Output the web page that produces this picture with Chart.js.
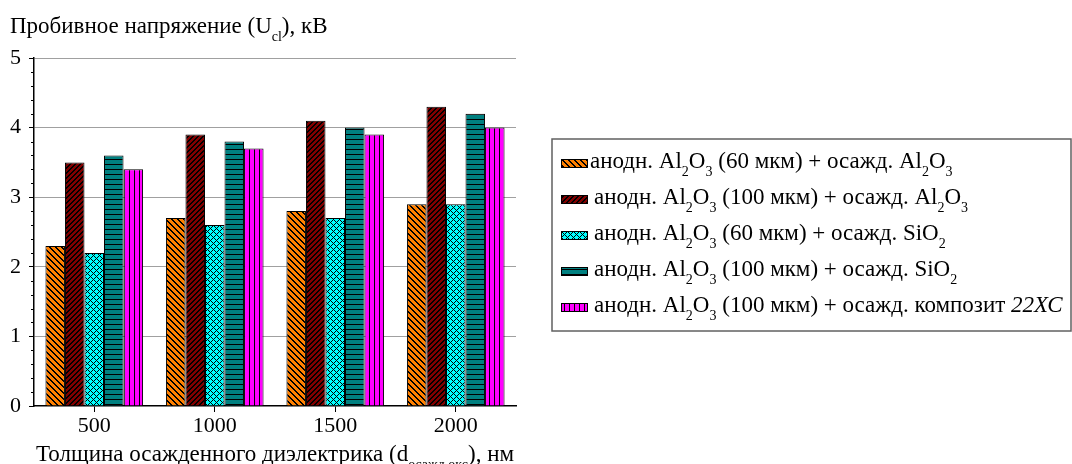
<!DOCTYPE html>
<html>
<head>
<meta charset="utf-8">
<script src="https://cdn.jsdelivr.net/npm/chart.js@4"></script>
<style>
  html, body { margin: 0; padding: 0; background: #fff; }
  #wrap { width: 1072px; height: 464px; }
</style>
</head>
<body>
<div id="wrap"><canvas id="grafico"></canvas></div>
<script>
// categories (x axis) and series
const categorias = ['500', '1000', '1500', '2000'];
const serie60Al = [2.3, 2.7, 2.8, 2.9];
const serie100Al = [3.5, 3.9, 4.1, 4.3];
const serie60Si = [2.2, 2.6, 2.7, 2.9];
const serie100Si = [3.6, 3.8, 4.0, 4.2];
const serieComp = [3.4, 3.7, 3.9, 4.0];
const yTicks = [0, 1, 2, 3, 4, 5];

// _x = subscript of one char, _{..} = subscript group, *..* = italic
const nomes = [
    'анодн. Al_2O_3 (60 мкм) + осажд. Al_2O_3',
    'анодн. Al_2O_3 (100 мкм) + осажд. Al_2O_3',
    'анодн. Al_2O_3 (60 мкм) + осажд. SiO_2',
    'анодн. Al_2O_3 (100 мкм) + осажд. SiO_2',
    'анодн. Al_2O_3 (100 мкм) + осажд. композит *22ХС*'
];
const tituloY = 'Пробивное напряжение (U_{cl}), кВ';
const tituloX = 'Толщина осажденного диэлектрика (d_{осажд.окс}), нм';

const FONTE = '"Liberation Serif", "Times New Roman", serif';

// texture tiles
function padrao(cor, tam, pixels) {
    const c = document.createElement('canvas');
    c.width = tam; c.height = tam;
    const g = c.getContext('2d');
    g.fillStyle = cor;
    g.fillRect(0, 0, tam, tam);
    g.fillStyle = '#000';
    pixels(g, tam);
    return g.createPattern(c, 'repeat');
}
const padroes = [
    padrao('#FF8000', 6, (g, n) => { for (let i = 0; i < n; i++) { g.fillRect(i, i, 1, 1); g.fillRect((i + 1) % n, i, 1, 1); } }),
    padrao('#800000', 5, (g, n) => { for (let i = 0; i < n; i++) { g.fillRect(n - 1 - i, i, 1, 1); g.fillRect((2 * n - 2 - i) % n, i, 1, 1); } }),
    padrao('#00FFFF', 6, (g, n) => { for (let i = 0; i < n; i++) { g.fillRect(i, i, 1, 1); g.fillRect((n - i) % n, i, 1, 1); } }),
    padrao('#008080', 5, (g, n) => { g.fillRect(0, n - 1, n, 1); }),
    padrao('#FF00FF', 5, (g, n) => { g.fillRect(n - 1, 0, 1, n); })
];

function partes(txt) {
    const out = [];
    let i = 0, buf = '', italico = false;
    const flush = () => { if (buf) { out.push({ t: buf, sub: false, it: italico }); buf = ''; } };
    while (i < txt.length) {
        const ch = txt[i];
        if (ch === '_') {
            flush();
            if (txt[i + 1] === '{') {
                const fim = txt.indexOf('}', i);
                out.push({ t: txt.slice(i + 2, fim), sub: true, it: italico });
                i = fim + 1;
            } else {
                out.push({ t: txt[i + 1], sub: true, it: italico });
                i += 2;
            }
            continue;
        }
        if (ch === '*') { flush(); italico = !italico; i++; continue; }
        buf += ch; i++;
    }
    flush();
    return out;
}

function fonte(p, tam) {
    return (p.it ? 'italic ' : '') + (p.sub ? Math.round(tam * 0.6) : tam) + 'px ' + FONTE;
}

function larguraRica(ctx, txt, tam) {
    let w = 0;
    partes(txt).forEach(p => {
        ctx.font = fonte(p, tam);
        w += ctx.measureText(p.t).width;
    });
    return w;
}

function textoRico(ctx, txt, x, y, tam) {
    ctx.save();
    ctx.fillStyle = '#000';
    ctx.textBaseline = 'alphabetic';
    ctx.textAlign = 'left';
    partes(txt).forEach(p => {
        ctx.font = fonte(p, tam);
        ctx.fillText(p.t, x, p.sub ? y + tam * 0.33 : y);
        x += ctx.measureText(p.t).width;
    });
    ctx.restore();
}

const extras = {
    id: 'extras',
    afterDraw(chart) {
        const ctx = chart.ctx;
        const area = chart.chartArea;
        const y = chart.scales.y;

        // minor ticks on the y axis
        ctx.save();
        ctx.strokeStyle = '#000';
        ctx.lineWidth = 1;
        for (let v = 0; v <= 5.001; v += 0.2) {
            if (Math.abs(v - Math.round(v)) < 0.01) continue;
            const py = Math.round(y.getPixelForValue(v)) + 0.5;
            ctx.beginPath();
            ctx.moveTo(area.left - 3, py);
            ctx.lineTo(area.left, py);
            ctx.stroke();
        }
        ctx.restore();

        // axis titles
        textoRico(ctx, tituloY, 10, 33, 23);
        const w = larguraRica(ctx, tituloX, 23);
        textoRico(ctx, tituloX, (area.left + area.right) / 2 - w / 2, 461, 23);

        // legend
        const lx = 552, ly = 139, lw = 519, lh = 192;
        ctx.save();
        ctx.strokeStyle = '#606060';
        ctx.lineWidth = 1.5;
        ctx.strokeRect(lx, ly, lw, lh);
        nomes.forEach((nome, i) => {
            const base = 168 + i * 36;
            ctx.fillStyle = padroes[i];
            ctx.fillRect(561, base - 8, 26, 8);
            ctx.strokeStyle = '#000';
            ctx.lineWidth = 1;
            ctx.strokeRect(561.5, base - 8.5, 26, 8);
            textoRico(ctx, nome, i === 0 ? 590 : 594, base, 23);
        });
        ctx.restore();
    }
};

const series = [serie60Al, serie100Al, serie60Si, serie100Si, serieComp];

new Chart(document.getElementById('grafico'), {
    type: 'bar',
    data: {
        labels: categorias,
        datasets: series.map((dados, i) => ({
            label: nomes[i],
            data: dados,
            backgroundColor: padroes[i],
            borderColor: '#000',
            borderWidth: 1,
            borderSkipped: 'bottom',
            categoryPercentage: 0.81,
            barPercentage: 1.0
        }))
    },
    options: {
        responsive: true,
        maintainAspectRatio: false,
        animation: false,
        layout: { padding: { top: 58, right: 556, bottom: 0, left: 0 } },
        plugins: {
            legend: { display: false },
            tooltip: { enabled: false }
        },
        scales: {
            x: {
                grid: {
                    offset: false,
                    drawOnChartArea: false,
                    drawTicks: true,
                    tickLength: 6,
                    tickColor: '#000'
                },
                border: { color: '#000', width: 1.5 },
                ticks: {
                    color: '#000',
                    padding: 1,
                    font: { family: FONTE, size: 22 }
                },
                afterFit(scale) { scale.height = 58; }
            },
            y: {
                min: 0,
                max: 5,
                afterBuildTicks(scale) { scale.ticks = yTicks.map(v => ({ value: v })); },
                grid: {
                    color: ctx => ctx.tick && ctx.tick.value === 0 ? 'rgba(0,0,0,0)' : '#a0a0a0',
                    lineWidth: 1,
                    drawTicks: true,
                    tickLength: 5,
                    tickColor: '#000'
                },
                border: { color: '#000', width: 1.5 },
                ticks: {
                    color: '#000',
                    padding: 8,
                    font: { family: FONTE, size: 22 }
                },
                afterFit(scale) { scale.width = 34; }
            }
        }
    },
    plugins: [extras]
});
</script>
</body>
</html>
